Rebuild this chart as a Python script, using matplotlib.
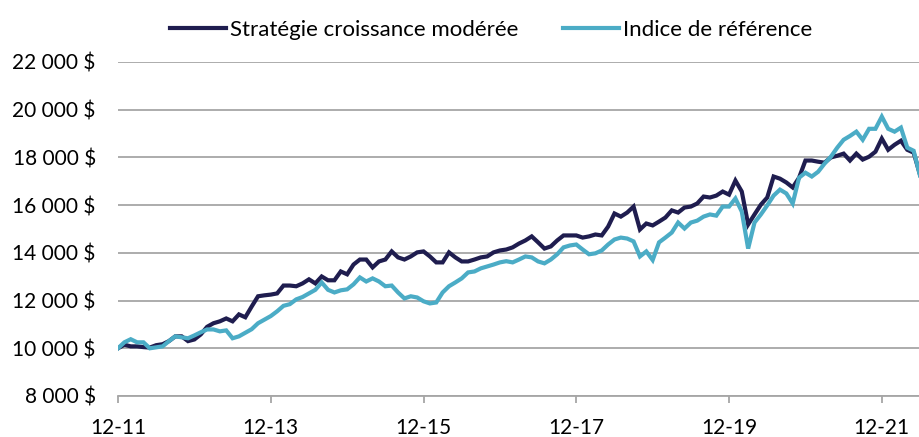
import matplotlib
matplotlib.use("Agg")
import matplotlib.pyplot as plt
from matplotlib.ticker import FuncFormatter

plt.rcParams['font.family'] = ['Lato', 'DejaVu Sans']

# Monthly values from Dec 2011 (index 0) to Jun 2022
strategie = [
    10000, 10150, 10080, 10080, 10050, 10030, 10130, 10170, 10300, 10500,
    10500, 10300, 10370, 10580, 10900, 11050, 11130, 11250, 11130, 11420,
    11300, 11750, 12180, 12220, 12250, 12300, 12630, 12630, 12600, 12720,
    12890, 12720, 13010, 12850, 12850, 13220, 13100, 13510, 13720, 13720,
    13390, 13640, 13720, 14060, 13810, 13720, 13850, 14020, 14060, 13850,
    13600, 13600, 14020, 13810, 13640, 13640, 13720, 13810, 13850, 14020,
    14100, 14140, 14230, 14390, 14520, 14690, 14440, 14180, 14270, 14520,
    14730, 14730, 14730, 14640, 14690, 14770, 14730, 15100, 15650, 15520,
    15690, 15940, 14980, 15230, 15150, 15310, 15480, 15780, 15690, 15900,
    15940, 16070, 16360, 16320, 16400, 16570, 16440, 17030, 16570, 15190,
    15610, 16020, 16320, 17200, 17110, 16950, 16740, 17150, 17870, 17870,
    17820, 17780, 18000, 18070, 18160, 17870, 18160, 17910, 18030, 18240,
    18790, 18320, 18530, 18700, 18320, 18200, 17280,
]
indice = [
    10000, 10250, 10380, 10250, 10250, 10000, 10040, 10080, 10300, 10500,
    10460, 10420, 10540, 10670, 10790, 10790, 10710, 10750, 10420, 10500,
    10650, 10800, 11050, 11200, 11350, 11550, 11780, 11850, 12050, 12150,
    12300, 12450, 12760, 12450, 12340, 12430, 12470, 12680, 12970, 12800,
    12930, 12800, 12600, 12630, 12340, 12090, 12180, 12130, 11970, 11880,
    11920, 12340, 12600, 12760, 12930, 13180, 13220, 13350, 13430, 13510,
    13600, 13650, 13600, 13720, 13850, 13810, 13640, 13560, 13720, 13940,
    14230, 14310, 14350, 14140, 13940, 13980, 14100, 14350, 14560, 14640,
    14600, 14480, 13850, 14060, 13700, 14440, 14640, 14850, 15270, 15020,
    15270, 15350, 15520, 15610, 15560, 15940, 15940, 16280, 15730, 14180,
    15270, 15610, 15990, 16400, 16650, 16490, 16070, 17150, 17360, 17200,
    17400, 17740, 18030, 18410, 18740, 18900, 19080, 18740, 19200, 19200,
    19710, 19200, 19080, 19250, 18410, 18280, 17240,
]
tick_labels = ['12-11', '12-13', '12-15', '12-17', '12-19', '12-21']
series_names = ['Stratégie croissance modérée', 'Indice de référence']

dark = '#1f1d4f'
light = '#4bacc6'
grid_c = '#a6a6a6'

fig = plt.figure(figsize=(9.2, 4.37), dpi=100)
ax = fig.add_axes([118/920, 1 - 396/437, 1 - 118/920, (396 - 62)/437])

x = list(range(len(strategie)))
ax.plot(x, strategie, color=dark, lw=3.0, label=series_names[0], solid_joinstyle='miter', zorder=3)
ax.plot(x, indice, color=light, lw=3.0, label=series_names[1], solid_joinstyle='miter', zorder=3)

ax.set_xlim(0, len(strategie) - 1)
ax.set_ylim(8000, 22000)
ax.set_yticks(range(8000, 22001, 2000))
ax.yaxis.set_major_formatter(FuncFormatter(lambda v, p: f"{int(v):,}".replace(',', ' ') + ' $'))
ax.set_xticks([i * 24 for i in range(len(tick_labels))])
ax.set_xticklabels(tick_labels)

ax.grid(axis='y', color=grid_c, lw=1.3)
ax.set_axisbelow(True)
for s in ['top', 'right', 'left']:
    ax.spines[s].set_visible(False)
ax.spines['bottom'].set_color(grid_c)
ax.spines['bottom'].set_linewidth(1.3)
ax.tick_params(axis='y', length=0, pad=16, labelsize=15)
ax.tick_params(axis='x', length=5, color=grid_c, width=1.3, pad=11, labelsize=15)

fig.legend(loc='upper center', bbox_to_anchor=(0.534, 1.0), ncol=2, frameon=False,
           fontsize=16, handlelength=2.5, handletextpad=0.2, columnspacing=2.0)

fig.savefig('out.png', dpi=100)
